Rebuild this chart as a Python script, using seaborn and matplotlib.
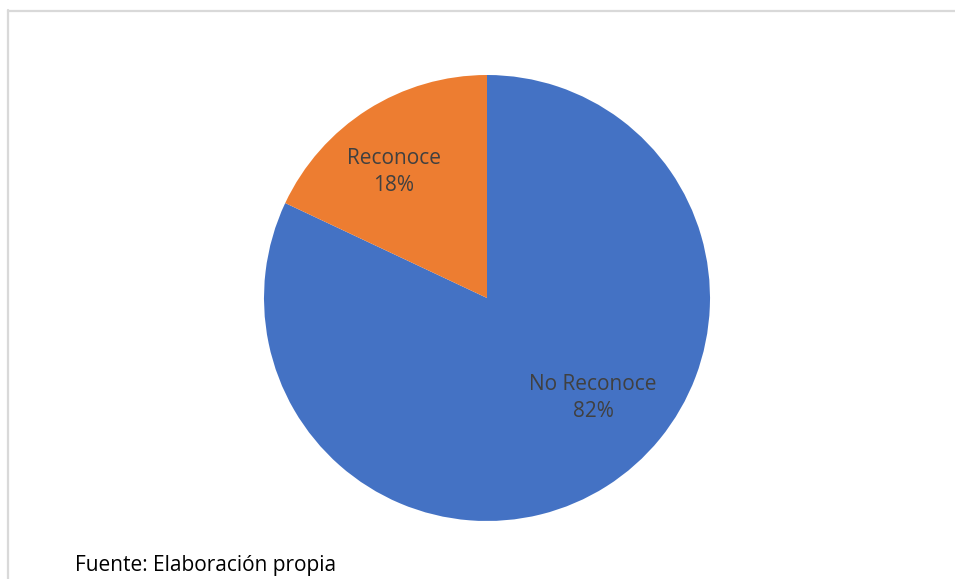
import matplotlib
matplotlib.use("Agg")
import matplotlib.pyplot as plt
import seaborn as sns
from matplotlib.lines import Line2D

categories = ["No Reconoce", "Reconoce"]
values = [82, 18]
colors = ["#4472C4", "#ED7D31"]
source_text = "Fuente: Elaboración propia"

sns.set_theme(style="white")
plt.rcParams['font.family'] = ['Open Sans', 'DejaVu Sans']

W, H = 955, 579
fig = plt.figure(figsize=(W / 100, H / 100), dpi=100)
fig.patch.set_facecolor("white")

# frame (left and top lines)
fig.add_artist(Line2D([7.5 / W, 7.5 / W], [1 - 10 / H, 0], color="#D9D9D9", lw=1.6,
                      transform=fig.transFigure))
fig.add_artist(Line2D([7.5 / W, 1.0], [1 - 10.5 / H, 1 - 10.5 / H], color="#D9D9D9", lw=1.6,
                      transform=fig.transFigure))

cx, cy, r = 487, 298, 223
ax = fig.add_axes([(cx - r) / W, (H - cy - r) / H, 2 * r / W, 2 * r / H])
wedges, texts = ax.pie(values, colors=colors, startangle=90, counterclock=False,
                       labels=[f"{c}\n{v}%" for c, v in zip(categories, values)],
                       labeldistance=0.68,
                       wedgeprops=dict(linewidth=0),
                       textprops=dict(color="#404040", fontsize=15, ha="center", va="center",
                                      linespacing=1.35))
# Excel-like label placement
texts[0].set_position((106 / r, -100 / r))
texts[1].set_position((-93 / r, 126 / r))
ax.set_xlim(-1, 1)
ax.set_ylim(-1, 1)
ax.set_aspect("equal")
ax.axis("off")

fig.text(75 / W, 1 - 566 / H, source_text, fontsize=15, color="#000000", ha="left", va="center")

fig.savefig("out.png", dpi=100)
